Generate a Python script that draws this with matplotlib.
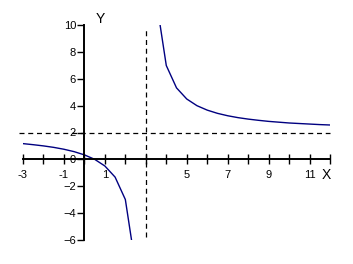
import numpy as np
import matplotlib
matplotlib.use("Agg")
import matplotlib.pyplot as plt
from matplotlib.patches import Rectangle

# curve points (two branches, split by the asymptote)
x_left = [-3, -2.5, -2, -1.5, -1, -0.5, 0, 0.5, 1, 1.5, 2, 2.5]
y_left = [1.17, 1.09, 1.0, 0.89, 0.75, 0.57, 0.33, 0.0, -0.5, -1.33, -3.0, -8.0]
x_right = [3.5, 4, 4.5, 5, 5.5, 6, 6.5, 7, 7.5, 8, 8.5, 9, 9.5, 10, 10.5, 11, 11.5, 12]
y_right = [12.0, 7.0, 5.33, 4.5, 4.0, 3.67, 3.43, 3.25, 3.11, 3.0, 2.91, 2.83,
           2.77, 2.71, 2.67, 2.63, 2.59, 2.56]

asym_x = 3
asym_y = 2

x_ticks = list(range(-3, 13))
x_labels = ['-3', '', '-1', '', '1', '', '', '', '5', '', '7', '', '9', '', '11', '']
y_ticks = [-6, -4, -2, 0, 2, 4, 6, 8, 10]

plt.rcParams['font.family'] = ['Liberation Sans', 'DejaVu Sans']

fig = plt.figure(figsize=(3.53, 2.64), dpi=100)
ax = fig.add_axes([0, 0, 1, 1])
ax.set_xlim(-84.4 / 20.47, (353 - 84.4) / 20.47)
ax.set_ylim(-(264 - 159.3) / 13.4, 159.3 / 13.4)

# axes crossing at the origin
for side in ['top', 'right']:
    ax.spines[side].set_visible(False)
ax.spines['left'].set_position(('data', 0))
ax.spines['bottom'].set_position(('data', 0))
ax.spines['left'].set_bounds(-6, 10)
ax.spines['bottom'].set_bounds(-3, 12)
ax.spines['left'].set_linewidth(1.4)
ax.spines['bottom'].set_linewidth(1.4)

ax.set_xticks(x_ticks)
ax.set_xticklabels(x_labels)
ax.set_yticks(y_ticks)
ax.tick_params(axis='x', direction='inout', length=7, width=1, pad=4, labelsize=8)
ax.tick_params(axis='y', direction='out', length=5, width=1, pad=1, labelsize=8)

# asymptotes
ax.plot([-3.2, 12], [asym_y, asym_y], color='black', lw=0.9, ls=(0, (4, 3)))
ax.plot([asym_x, asym_x], [-5.8, 9.8], color='black', lw=0.9, ls=(0, (4, 3)))

clip = Rectangle((-3, -6), 15, 16, transform=ax.transData)
for xs, ys in [(x_left, y_left), (x_right, y_right)]:
    ln, = ax.plot(xs, ys, color='#000080', lw=1.0)
    ln.set_clip_path(clip)

ax.text(0.76, 10.5, 'Y', fontsize=10, ha='center', va='center')
ax.text(11.8, -1.17, 'X', fontsize=10, ha='center', va='center')

fig.savefig('out.png', dpi=100)
